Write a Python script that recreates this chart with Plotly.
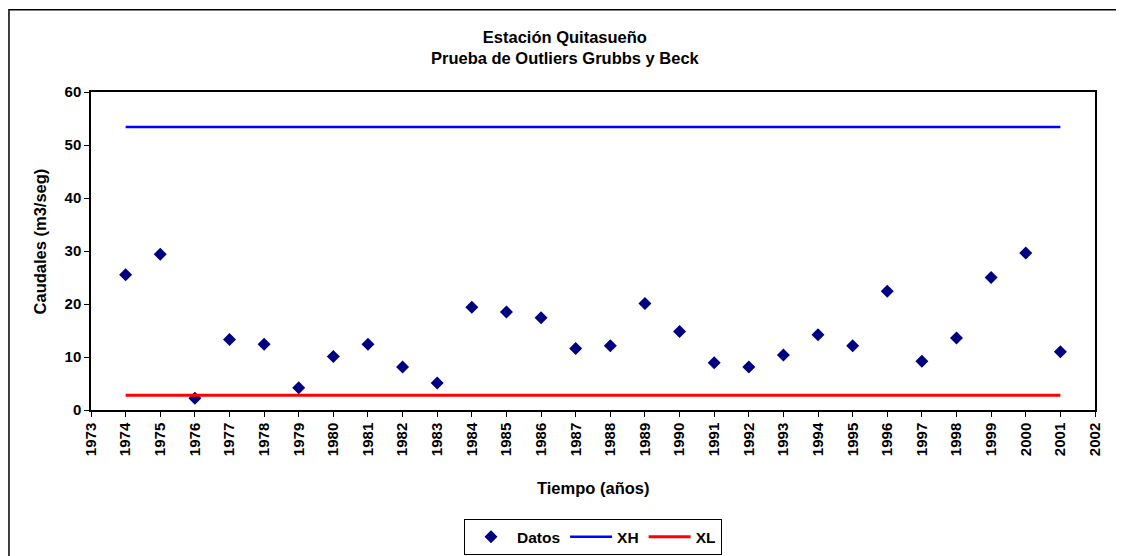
import plotly.graph_objects as go

years = list(range(1974, 2002))
caudales = [25.5, 29.4, 2.2, 13.3, 12.4, 4.2, 10.1, 12.4, 8.1, 5.1,
            19.4, 18.5, 17.4, 11.6, 12.1, 20.1, 14.8, 8.9, 8.1, 10.4,
            14.2, 12.1, 22.4, 9.2, 13.6, 25.0, 29.6, 11.0]
xh_value = 53.4
xl_value = 2.8
xh = [xh_value] * len(years)
xl = [xl_value] * len(years)
tick_years = list(range(1973, 2003))

FONT = "Liberation Sans, Arial, sans-serif"

fig = go.Figure()
fig.add_trace(go.Scatter(x=years, y=caudales, mode="markers", name="Datos",
                         marker=dict(symbol="diamond", size=10, color="#000080")))
fig.add_trace(go.Scatter(x=years, y=xh, mode="lines", name="XH",
                         line=dict(color="#0000FF", width=2.5)))
fig.add_trace(go.Scatter(x=years, y=xl, mode="lines", name="XL",
                         line=dict(color="#FF0000", width=3)))

# page body has an 8px margin, so the figure is shifted by 8px right/down
fig.update_layout(
    width=1116, height=548,
    margin=dict(l=83, r=29, t=84, b=146, autoexpand=False),
    paper_bgcolor="white", plot_bgcolor="white",
    font=dict(family=FONT, size=15, color="black"),
    showlegend=True,
    legend=dict(orientation="h", x=0.5, xanchor="center", xref="paper",
                y=-0.343, yanchor="top",
                bordercolor="black", borderwidth=1,
                font=dict(size=15.5, family=FONT, weight="bold"),
                itemwidth=42),
    xaxis=dict(range=[1973, 2002], tickmode="array", tickvals=tick_years,
               ticktext=[str(t) for t in tick_years], tickangle=-90,
               ticks="outside", ticklen=5, tickcolor="black",
               showline=True, linecolor="black", linewidth=1.5, mirror=True,
               showgrid=False, zeroline=False,
               tickfont=dict(size=15, family=FONT, weight="bold")),
    yaxis=dict(range=[0, 60], tickmode="array", tickvals=[0, 10, 20, 30, 40, 50, 60],
               ticks="outside", ticklen=5, tickcolor="black",
               showline=True, linecolor="black", linewidth=1.5, mirror=True,
               showgrid=False, zeroline=False,
               tickfont=dict(size=15, family=FONT, weight="bold")),
)

fig.add_annotation(text="<b>Estación Quitasueño<br>Prueba de Outliers Grubbs y Beck</b>",
                   xref="paper", yref="paper", x=0.473, y=1.1415,
                   xanchor="center", yanchor="middle", showarrow=False,
                   font=dict(size=16.5, family=FONT))
fig.add_annotation(text="<b>Tiempo (años)</b>",
                   xref="paper", yref="paper", x=0.5, y=-0.245,
                   xanchor="center", yanchor="middle", showarrow=False,
                   font=dict(size=16.5, family=FONT))
fig.add_annotation(text="<b>Caudales (m3/seg)</b>", textangle=-90,
                   xref="paper", yref="paper", x=-0.0508, y=0.53,
                   xanchor="center", yanchor="middle", showarrow=False,
                   font=dict(size=16.5, family=FONT))

fig.add_shape(type="rect", xref="paper", yref="paper",
              x0=-0.0817, x1=1.1, y0=-0.6, y1=1.259,
              line=dict(color="black", width=1.5), fillcolor="rgba(0,0,0,0)",
              layer="below")

fig.write_html("out.html")
